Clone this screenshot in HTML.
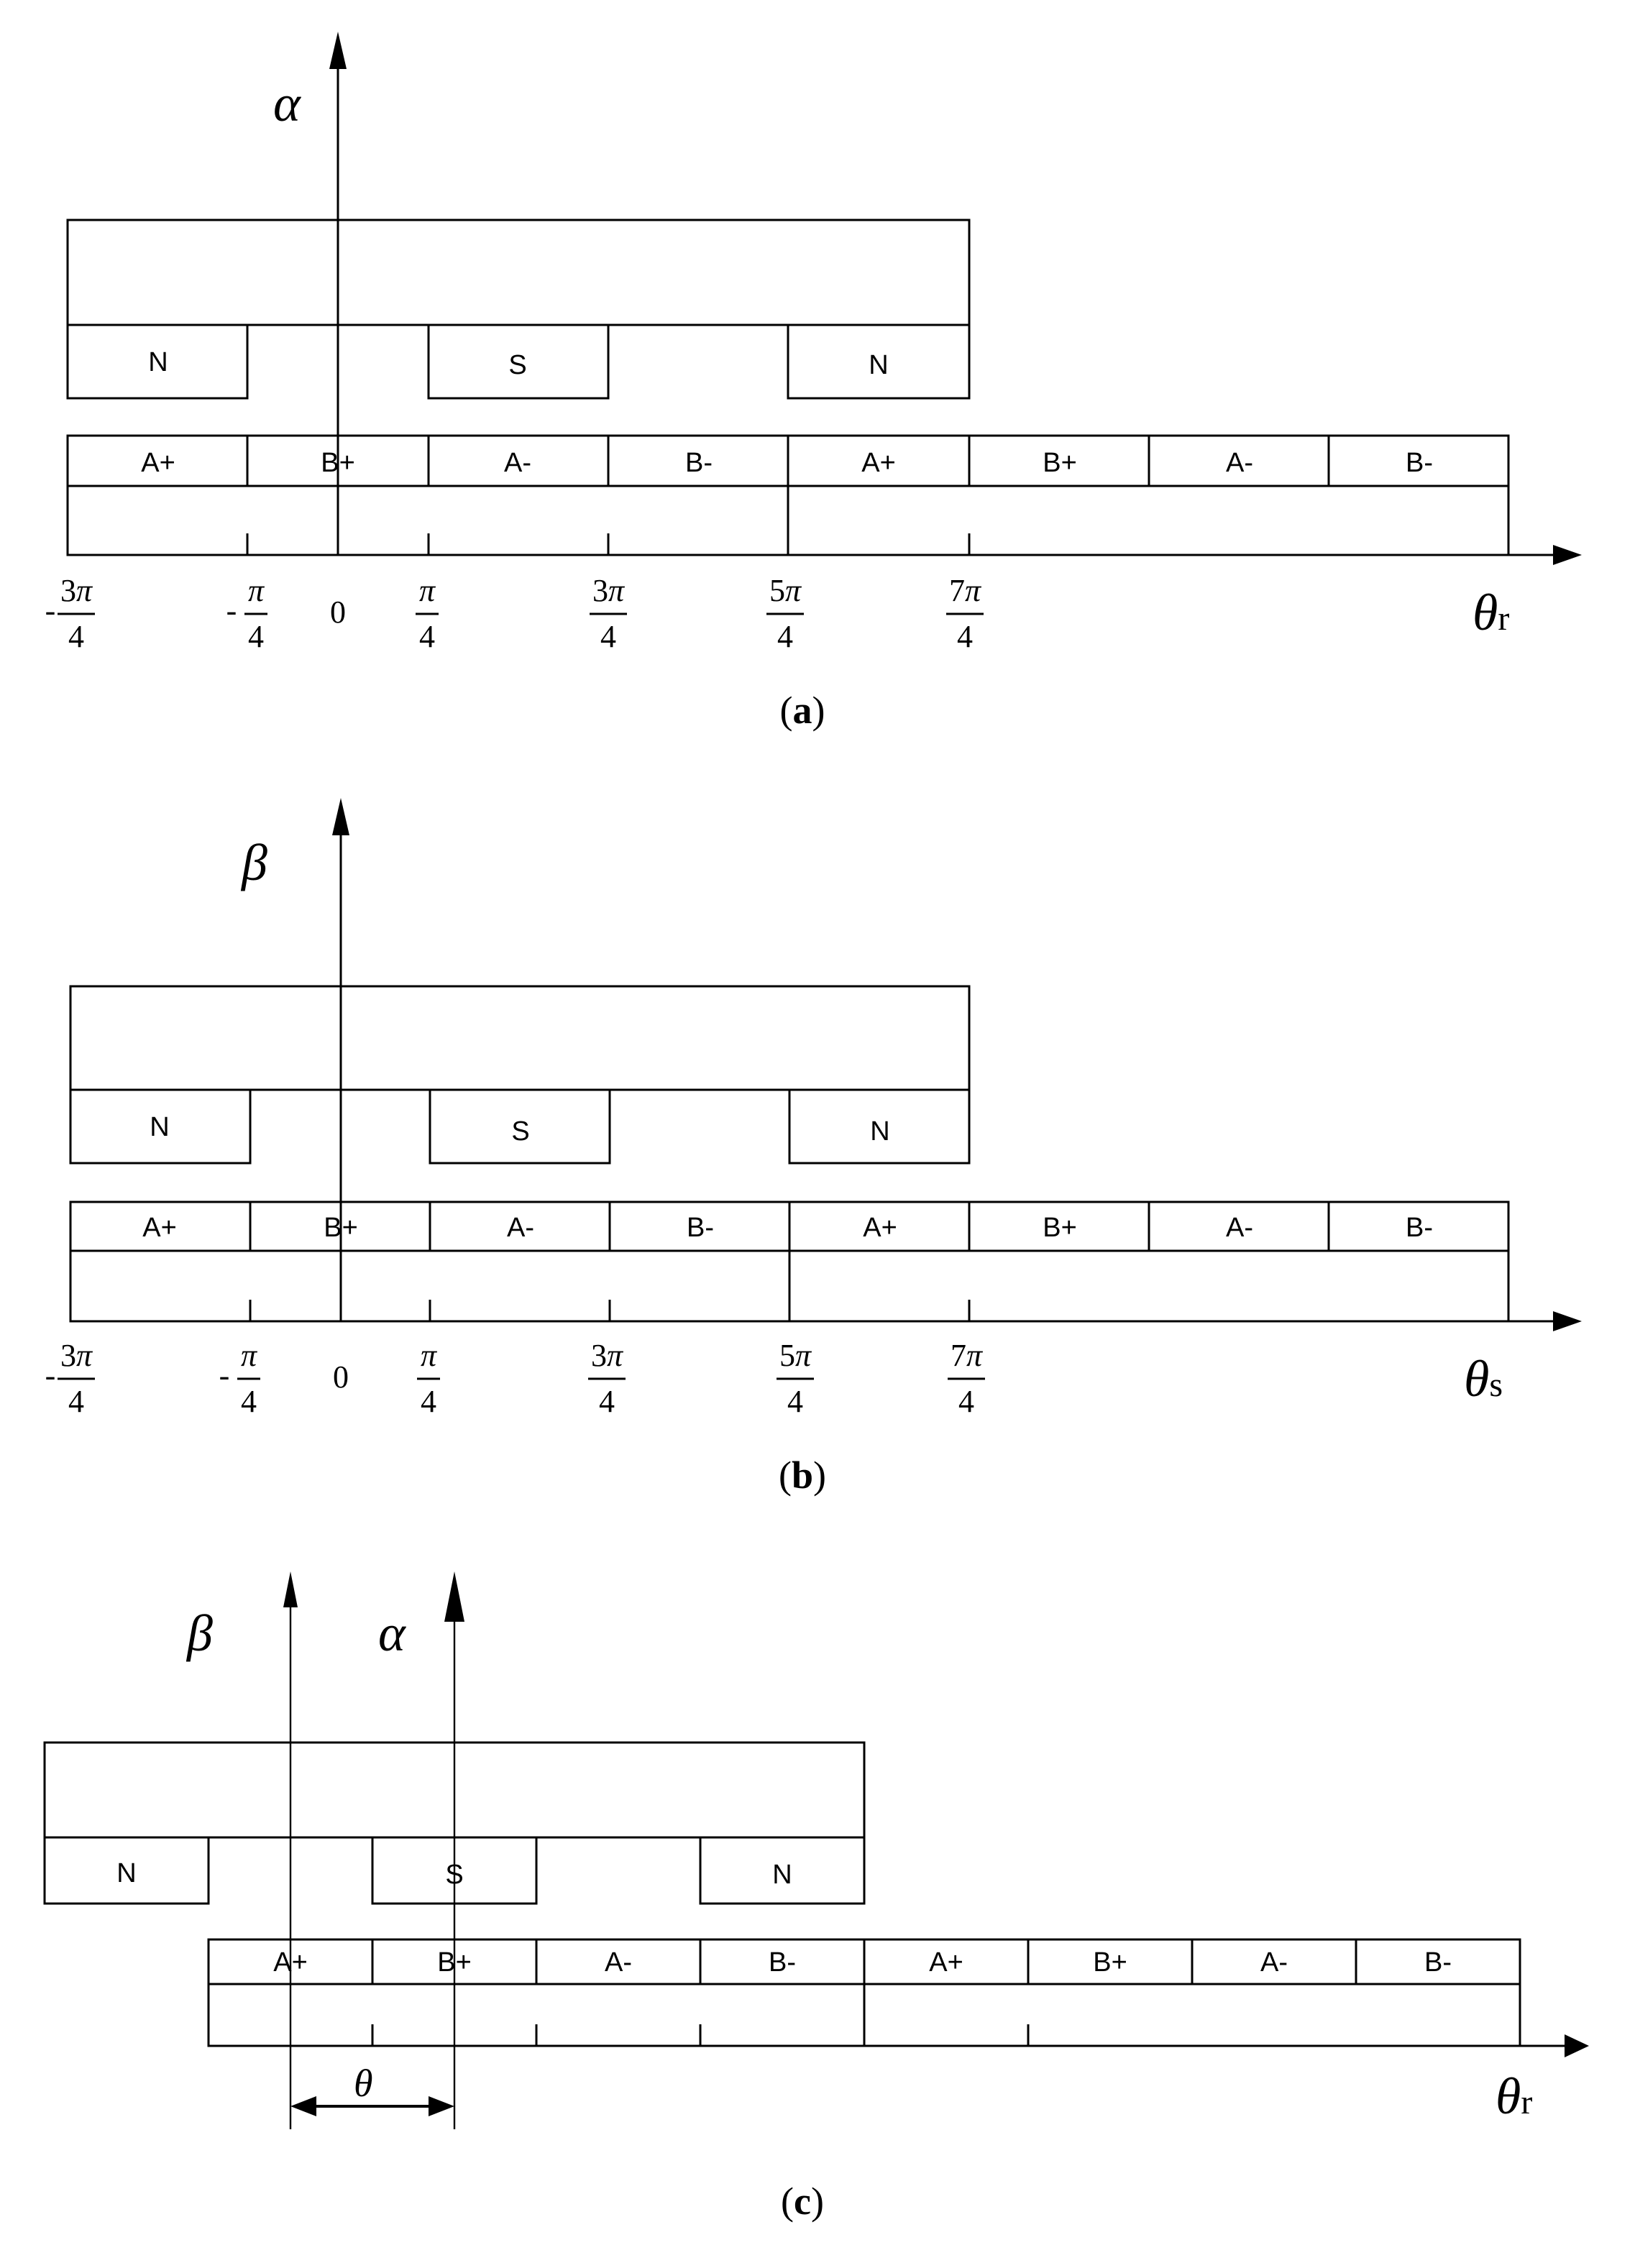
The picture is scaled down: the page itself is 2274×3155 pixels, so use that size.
<!DOCTYPE html>
<html><head><meta charset="utf-8"><style>
html,body{margin:0;padding:0;background:#fff}
svg{display:block}
.s{font-family:"Liberation Sans",sans-serif;font-size:19px}
.m{font-family:"Liberation Serif",serif;font-size:22px}
.i{font-family:"Liberation Serif",serif;font-style:italic}
</style></head><body>
<svg width="2274" height="3155" viewBox="0 0 1137 1577.5" xmlns="http://www.w3.org/2000/svg">
<g fill="none" stroke="#000" stroke-width="1.5">
<line x1="235" y1="40" x2="235" y2="386"/>
<rect x="47" y="153" width="627" height="73"/>
<rect x="47" y="226" width="125" height="51"/>
<rect x="298" y="226" width="125" height="51"/>
<rect x="548" y="226" width="126" height="51"/>
<rect x="47" y="303" width="1002" height="83"/>
<line x1="47" y1="338" x2="1049" y2="338"/>
<line x1="172" y1="303" x2="172" y2="338"/><line x1="298" y1="303" x2="298" y2="338"/><line x1="423" y1="303" x2="423" y2="338"/><line x1="548" y1="303" x2="548" y2="386"/><line x1="674" y1="303" x2="674" y2="338"/><line x1="799" y1="303" x2="799" y2="338"/><line x1="924" y1="303" x2="924" y2="338"/>
<line x1="172" y1="371" x2="172" y2="386"/><line x1="298" y1="371" x2="298" y2="386"/><line x1="423" y1="371" x2="423" y2="386"/><line x1="674" y1="371" x2="674" y2="386"/>
<line x1="1049" y1="386" x2="1085" y2="386"/>
<line x1="237" y1="575" x2="237" y2="919"/>
<rect x="49" y="686" width="625" height="72"/>
<rect x="49" y="758" width="125" height="51"/>
<rect x="299" y="758" width="125" height="51"/>
<rect x="549" y="758" width="125" height="51"/>
<rect x="49" y="836" width="1000" height="83"/>
<line x1="49" y1="870" x2="1049" y2="870"/>
<line x1="174" y1="836" x2="174" y2="870"/><line x1="299" y1="836" x2="299" y2="870"/><line x1="424" y1="836" x2="424" y2="870"/><line x1="549" y1="836" x2="549" y2="919"/><line x1="674" y1="836" x2="674" y2="870"/><line x1="799" y1="836" x2="799" y2="870"/><line x1="924" y1="836" x2="924" y2="870"/>
<line x1="174" y1="904" x2="174" y2="919"/><line x1="299" y1="904" x2="299" y2="919"/><line x1="424" y1="904" x2="424" y2="919"/><line x1="674" y1="904" x2="674" y2="919"/>
<line x1="1049" y1="919" x2="1085" y2="919"/>
<line x1="202" y1="1110" x2="202" y2="1481" stroke-width="1.2"/>
<line x1="316" y1="1120" x2="316" y2="1481" stroke-width="1.2"/>
<rect x="31" y="1212" width="570" height="66"/>
<rect x="31" y="1278" width="114" height="46"/>
<rect x="259" y="1278" width="114" height="46"/>
<rect x="487" y="1278" width="114" height="46"/>
<rect x="145" y="1349" width="912" height="74"/>
<line x1="145" y1="1380" x2="1057" y2="1380"/>
<line x1="259" y1="1349" x2="259" y2="1380"/><line x1="373" y1="1349" x2="373" y2="1380"/><line x1="487" y1="1349" x2="487" y2="1380"/><line x1="601" y1="1349" x2="601" y2="1423"/><line x1="715" y1="1349" x2="715" y2="1380"/><line x1="829" y1="1349" x2="829" y2="1380"/><line x1="943" y1="1349" x2="943" y2="1380"/>
<line x1="259" y1="1408" x2="259" y2="1423"/><line x1="373" y1="1408" x2="373" y2="1423"/><line x1="487" y1="1408" x2="487" y2="1423"/><line x1="715" y1="1408" x2="715" y2="1423"/>
<line x1="1057" y1="1423" x2="1090" y2="1423"/>
<line x1="215" y1="1465" x2="303" y2="1465" stroke-width="2"/>
</g>
<g fill="#000">
<polygon points="235,22 229,48 241,48"/>
<polygon points="1100,386 1080,379 1080,393"/>
<polygon points="237,555 231,581 243,581"/>
<polygon points="1100,919 1080,912 1080,926"/>
<polygon points="202,1093 197,1118 207,1118"/>
<polygon points="316,1093 309,1128 323,1128"/>
<polygon points="1105,1423 1088,1415 1088,1431"/>
<polygon points="202,1465 220,1458 220,1472"/>
<polygon points="316,1465 298,1458 298,1472"/>
</g>
<g class="s" text-anchor="middle">
<text x="110" y="258">N</text><text x="360" y="260">S</text><text x="611" y="260">N</text>
<text x="110" y="328">A+</text><text x="235" y="328">B+</text><text x="360" y="328">A-</text><text x="486" y="328">B-</text><text x="611" y="328">A+</text><text x="737" y="328">B+</text><text x="862" y="328">A-</text><text x="987" y="328">B-</text>
<text x="111" y="790">N</text><text x="362" y="793">S</text><text x="612" y="793">N</text>
<text x="111" y="860">A+</text><text x="237" y="860">B+</text><text x="362" y="860">A-</text><text x="487" y="860">B-</text><text x="612" y="860">A+</text><text x="737" y="860">B+</text><text x="862" y="860">A-</text><text x="987" y="860">B-</text>
<text x="88" y="1309">N</text><text x="316" y="1310">S</text><text x="544" y="1310">N</text>
<text x="202" y="1371">A+</text><text x="316" y="1371">B+</text><text x="430" y="1371">A-</text><text x="544" y="1371">B-</text><text x="658" y="1371">A+</text><text x="772" y="1371">B+</text><text x="886" y="1371">A-</text><text x="1000" y="1371">B-</text>
</g>
<g class="m" text-anchor="middle">
<text x="53" y="418">3<tspan font-style="italic">π</tspan></text><line x1="40" y1="427" x2="66" y2="427" stroke="#000" stroke-width="1.5"/><text x="53" y="450">4</text><text x="35" y="432">-</text>
<text x="178" y="418" font-style="italic">π</text><line x1="170" y1="427" x2="186" y2="427" stroke="#000" stroke-width="1.5"/><text x="178" y="450">4</text><text x="161" y="432">-</text>
<text x="235" y="433">0</text>
<text x="297" y="418" font-style="italic">π</text><line x1="289" y1="427" x2="305" y2="427" stroke="#000" stroke-width="1.5"/><text x="297" y="450">4</text>
<text x="423" y="418">3<tspan font-style="italic">π</tspan></text><line x1="410" y1="427" x2="436" y2="427" stroke="#000" stroke-width="1.5"/><text x="423" y="450">4</text>
<text x="546" y="418">5<tspan font-style="italic">π</tspan></text><line x1="533" y1="427" x2="559" y2="427" stroke="#000" stroke-width="1.5"/><text x="546" y="450">4</text>
<text x="671" y="418">7<tspan font-style="italic">π</tspan></text><line x1="658" y1="427" x2="684" y2="427" stroke="#000" stroke-width="1.5"/><text x="671" y="450">4</text>
<text x="53" y="950">3<tspan font-style="italic">π</tspan></text><line x1="40" y1="959" x2="66" y2="959" stroke="#000" stroke-width="1.5"/><text x="53" y="982">4</text><text x="35" y="964">-</text>
<text x="173" y="950" font-style="italic">π</text><line x1="165" y1="959" x2="181" y2="959" stroke="#000" stroke-width="1.5"/><text x="173" y="982">4</text><text x="156" y="964">-</text>
<text x="237" y="965">0</text>
<text x="298" y="950" font-style="italic">π</text><line x1="290" y1="959" x2="306" y2="959" stroke="#000" stroke-width="1.5"/><text x="298" y="982">4</text>
<text x="422" y="950">3<tspan font-style="italic">π</tspan></text><line x1="409" y1="959" x2="435" y2="959" stroke="#000" stroke-width="1.5"/><text x="422" y="982">4</text>
<text x="553" y="950">5<tspan font-style="italic">π</tspan></text><line x1="540" y1="959" x2="566" y2="959" stroke="#000" stroke-width="1.5"/><text x="553" y="982">4</text>
<text x="672" y="950">7<tspan font-style="italic">π</tspan></text><line x1="659" y1="959" x2="685" y2="959" stroke="#000" stroke-width="1.5"/><text x="672" y="982">4</text>
</g>
<g class="i" font-size="36">
<text x="190" y="84">α</text>
<text x="168" y="612">β</text>
<text x="130" y="1148">β</text>
<text x="263" y="1148">α</text>
<text x="1024" y="438">θ<tspan font-style="normal" font-size="24">r</tspan></text>
<text x="1018" y="971">θ<tspan font-style="normal" font-size="24">s</tspan></text>
<text x="1040" y="1470">θ<tspan font-style="normal" font-size="24">r</tspan></text>
<text x="246" y="1458" font-size="27">θ</text>
</g>
<g font-family="Liberation Serif,serif" font-size="27" text-anchor="middle">
<text x="558" y="503">(<tspan font-weight="bold">a</tspan>)</text>
<text x="558" y="1035">(<tspan font-weight="bold">b</tspan>)</text>
<text x="558" y="1540">(<tspan font-weight="bold">c</tspan>)</text>
</g>
</svg>
</body></html>
